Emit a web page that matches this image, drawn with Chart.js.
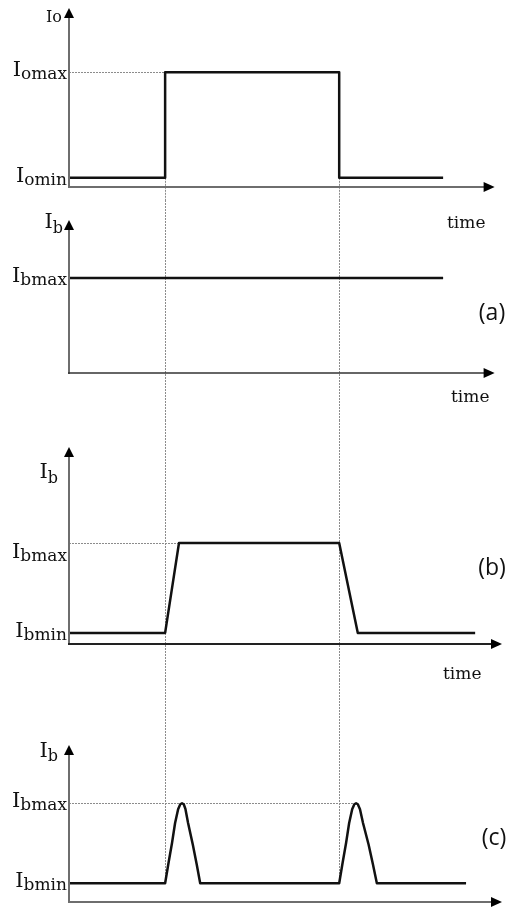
<!DOCTYPE html>
<html>
<head>
<meta charset="utf-8">
<title>Io / Ib</title>
<script src="https://cdn.jsdelivr.net/npm/chart.js@4.4.1/dist/chart.umd.min.js"></script>
<style>
  html, body { margin: 0; padding: 0; background: #fff; }
  #wrap { position: relative; width: 511px; height: 908px; overflow: hidden; }
  #wrap canvas { position: absolute; left: 0; }
</style>
</head>
<body>
<div id="wrap">
  <canvas id="io"  width="511" height="240" style="top:0px"></canvas>
  <canvas id="ibA" width="511" height="220" style="top:200px"></canvas>
  <canvas id="ibB" width="511" height="270" style="top:420px"></canvas>
  <canvas id="ibC" width="511" height="228" style="top:680px"></canvas>
</div>
<script>
// switching instants shared by all four traces (time axis runs 0..10)
const guideTimes = [2.22, 6.24];

// load current Io
const ioTime  = [0, 2.22, 2.22, 6.24, 6.24, 8.64];
const ioValue = [0.08, 0.08, 1, 1, 0.08, 0.08];
const ioLevels = [0.08, 1];
const ioLevelNames = ['omin', 'omax'];

// (a) battery current held at its maximum
const aTime  = [0, 8.64];
const aValue = [1, 1];
const aLevels = [1];
const aLevelNames = ['bmax'];

// (b) battery current with ramped edges
const bTime  = [0, 2.22, 2.54, 6.24, 6.67, 9.38];
const bValue = [0.11, 0.11, 1, 1, 0.11, 0.11];
const bLevels = [0.11, 1];
const bLevelNames = ['bmin', 'bmax'];

// (c) battery current pulses at each transition
const cTime  = [0, 2.22, 2.30, 2.38, 2.45, 2.52, 2.57, 2.61, 2.65, 2.69, 2.75, 2.86, 2.95, 3.03,
                6.24, 6.32, 6.40, 6.47, 6.54, 6.59, 6.63, 6.67, 6.72, 6.79, 6.92, 7.02, 7.11, 9.17];
const cValue = [0.19, 0.19, 0.40, 0.60, 0.80, 0.94, 0.99, 1, 0.99, 0.94, 0.80, 0.58, 0.38, 0.19,
                0.19, 0.40, 0.60, 0.80, 0.94, 0.99, 1, 0.99, 0.94, 0.80, 0.58, 0.38, 0.19, 0.19];
const cLevels = [0.19, 1];
const cLevelNames = ['bmin', 'bmax'];
const cPeakTimes = [2.61, 6.63];

const SERIF = '"DejaVu Serif", serif';

function series(times, values) {
  return times.map((t, i) => ({ x: t, y: values[i] }));
}

// "I" with an index, right edge at x
function drawSymbol(ctx, right, base, main, sub, mainSize, subSize, drop) {
  ctx.textAlign = 'left';
  ctx.textBaseline = 'alphabetic';
  ctx.font = subSize + 'px ' + SERIF;
  const subW = ctx.measureText(sub).width;
  ctx.font = mainSize + 'px ' + SERIF;
  const mainW = ctx.measureText(main).width;
  const left = right - subW - mainW;
  ctx.fillText(main, left, base);
  ctx.font = subSize + 'px ' + SERIF;
  ctx.fillText(sub, left + mainW, base + drop);
}

function dotted(ctx, x1, y1, x2, y2) {
  ctx.beginPath();
  ctx.moveTo(x1, y1);
  ctx.lineTo(x2, y2);
  ctx.stroke();
}

const panelDecor = {
  id: 'panelDecor',
  beforeDatasetsDraw(chart, args, o) {
    const { ctx, scales: { x, y } } = chart;
    ctx.save();
    ctx.strokeStyle = '#8c8c8c';
    ctx.lineWidth = 1;
    ctx.setLineDash([2, 1]);
    const top = o.guideTopLevel == null ? 0 : y.getPixelForValue(o.guideTopLevel);
    const bottom = o.guideBottomLevel == null ? o.guideBottom : y.getPixelForValue(o.guideBottomLevel);
    guideTimes.forEach(t => {
      const px = Math.round(x.getPixelForValue(t)) + 0.5;
      dotted(ctx, px, top, px, bottom);
    });
    if (o.levelGuide) {
      const py = Math.round(y.getPixelForValue(o.levelGuide.level)) + 0.5;
      dotted(ctx, x.getPixelForValue(0), py, x.getPixelForValue(o.levelGuide.to), py);
    }
    ctx.restore();
  },
  afterDatasetsDraw(chart, args, o) {
    const { ctx, scales: { x, y } } = chart;
    const x0 = x.getPixelForValue(0);
    const y0 = y.getPixelForValue(0);
    const yTop = y.getPixelForValue(y.max);
    const xEnd = x.getPixelForValue(o.axisEnd);
    ctx.save();

    // vertical axis with arrow
    ctx.strokeStyle = '#6e6e6e';
    ctx.lineWidth = 2;
    ctx.beginPath();
    ctx.moveTo(x0, y0 + 1);
    ctx.lineTo(x0, yTop + 8);
    ctx.stroke();
    ctx.fillStyle = '#000';
    ctx.beginPath();
    ctx.moveTo(x0, yTop);
    ctx.lineTo(x0 - 5, yTop + 10);
    ctx.lineTo(x0 + 5, yTop + 10);
    ctx.closePath();
    ctx.fill();

    // time axis with arrow
    ctx.strokeStyle = o.xAxisColor;
    ctx.lineWidth = o.xAxisWidth;
    ctx.beginPath();
    ctx.moveTo(x0 - 1, y0);
    ctx.lineTo(xEnd - 9, y0);
    ctx.stroke();
    ctx.beginPath();
    ctx.moveTo(xEnd, y0);
    ctx.lineTo(xEnd - 11, y0 - 5);
    ctx.lineTo(xEnd - 11, y0 + 5);
    ctx.closePath();
    ctx.fill();

    ctx.fillStyle = '#111';
    // level names beside the vertical axis
    o.levels.forEach((v, i) => {
      const base = y.getPixelForValue(v) + 4 + (o.labelShift ? o.labelShift[i] : 0);
      drawSymbol(ctx, x0 - 2, base, 'I', o.levelNames[i], 21, 17, 3);
    });
    // axis name
    const n = o.axisName;
    drawSymbol(ctx, n.right, n.base, 'I', n.sub, n.size, n.subSize, n.drop);

    if (o.timeLabel) {
      ctx.font = '17px ' + SERIF;
      ctx.textAlign = 'left';
      ctx.textBaseline = 'alphabetic';
      ctx.fillText('time', o.timeLabel.x, o.timeLabel.y);
    }
    if (o.tag) {
      ctx.font = '23px "Open Sans", sans-serif';
      ctx.textAlign = 'center';
      ctx.textBaseline = 'middle';
      ctx.fillText(o.tag.text, o.tag.x, o.tag.y);
    }
    ctx.restore();
  }
};

function panel(id, times, values, yMax, padding, decor) {
  return new Chart(document.getElementById(id), {
    type: 'line',
    data: {
      datasets: [{
        data: series(times, values),
        borderColor: '#111',
        borderWidth: 2.5,
        borderJoinStyle: 'round',
        pointRadius: 0,
        fill: false,
        tension: 0
      }]
    },
    options: {
      responsive: false,
      animation: false,
      events: [],
      layout: { padding },
      plugins: {
        legend: { display: false },
        tooltip: { enabled: false },
        panelDecor: decor
      },
      scales: {
        x: { type: 'linear', min: 0, max: 10, display: false },
        y: { type: 'linear', min: 0, max: yMax, display: false }
      }
    },
    plugins: [panelDecor]
  });
}

panel('io', ioTime, ioValue, 1.56,
  { left: 69, right: 9, top: 8, bottom: 53 },
  {
    levels: ioLevels, levelNames: ioLevelNames,
    axisEnd: 9.83, xAxisColor: '#6e6e6e', xAxisWidth: 2,
    guideTopLevel: ioLevels[0], guideBottom: 200,
    levelGuide: { level: ioLevels[1], to: guideTimes[0] },
    axisName: { right: 62, base: 22, sub: 'o', size: 16, subSize: 16, drop: 0 },
    timeLabel: { x: 447, y: 228 }
  });

panel('ibA', aTime, aValue, 1.61,
  { left: 69, right: 9, top: 20, bottom: 47 },
  {
    levels: aLevels, levelNames: aLevelNames,
    axisEnd: 9.83, xAxisColor: '#333', xAxisWidth: 1.5,
    guideBottom: 220,
    axisName: { right: 63, base: 28, sub: 'b', size: 21, subSize: 16, drop: 5 },
    timeLabel: { x: 451, y: 202 },
    tag: { text: '(a)', x: 492, y: 113 }
  });

panel('ibB', bTime, bValue, 1.95,
  { left: 69, right: 9, top: 27, bottom: 46 },
  {
    levels: bLevels, levelNames: bLevelNames, labelShift: [0, 11],
    axisEnd: 10, xAxisColor: '#222', xAxisWidth: 2,
    guideBottom: 260,
    levelGuide: { level: bLevels[1], to: bTime[2] },
    axisName: { right: 58, base: 58, sub: 'b', size: 21, subSize: 16, drop: 5 },
    timeLabel: { x: 443, y: 259 },
    tag: { text: '(b)', x: 492, y: 148 }
  });

panel('ibC', cTime, cValue, 1.59,
  { left: 69, right: 9, top: 65, bottom: 6 },
  {
    levels: cLevels, levelNames: cLevelNames,
    axisEnd: 10, xAxisColor: '#6e6e6e', xAxisWidth: 2,
    guideBottomLevel: cLevels[0],
    levelGuide: { level: cLevels[1], to: cPeakTimes[1] },
    axisName: { right: 58, base: 77, sub: 'b', size: 21, subSize: 16, drop: 4 },
    tag: { text: '(c)', x: 494, y: 158 }
  });
</script>
</body>
</html>
